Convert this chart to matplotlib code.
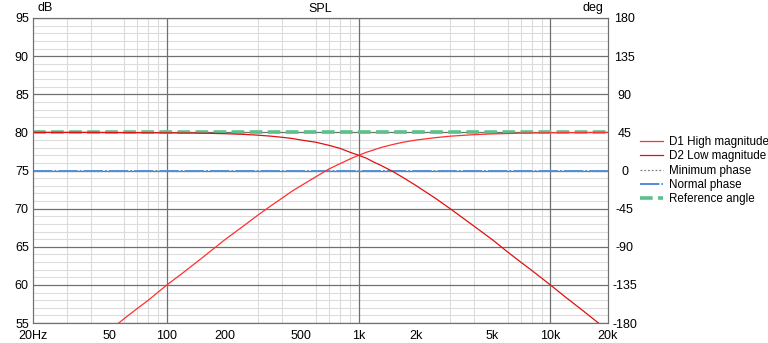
import numpy as np
import matplotlib.pyplot as plt
from matplotlib.ticker import FixedLocator, NullFormatter

# frequency points (Hz) and magnitudes (dB)
freq = [20, 25, 30, 40, 50, 60, 70, 80, 100, 120, 150, 200, 250, 300, 350, 400,
        450, 500, 600, 700, 800, 900, 1000, 1100, 1200, 1300, 1500, 1700, 2000,
        2500, 3000, 4000, 5000, 6000, 7000, 8000, 10000, 12000, 15000, 20000]
d1_high = [46.0, 47.9, 49.5, 52.0, 54.0, 55.6, 56.9, 58.0, 60.0, 61.5, 63.4, 65.9,
           67.7, 69.2, 70.4, 71.4, 72.3, 73.0, 74.2, 75.2, 75.9, 76.5, 77.0, 77.4,
           77.7, 78.0, 78.4, 78.7, 79.0, 79.3, 79.5, 79.7, 79.8, 79.85, 79.9, 79.92,
           79.95, 79.97, 79.98, 80.0]
d2_low = [80.0, 80.0, 80.0, 80.0, 79.98, 79.97, 79.96, 79.95, 79.94, 79.92, 79.9, 79.83,
          79.74, 79.63, 79.5, 79.35, 79.2, 79.0, 78.7, 78.3, 77.9, 77.4, 77.0, 76.6,
          76.1, 75.7, 74.9, 74.1, 73.0, 71.4, 70.0, 67.7, 65.9, 64.3, 63.0, 61.9,
          60.0, 58.4, 56.5, 54.0]
min_phase = [0, 0]        # deg
normal_phase = [0, 0]     # deg
reference_angle = [45, 45]  # deg
phase_freq = [20, 20000]

x_ticks = [20, 50, 100, 200, 500, 1000, 2000, 5000, 10000, 20000]
x_labels = ['20Hz', '50', '100', '200', '500', '1k', '2k', '5k', '10k', '20k']
db_ticks = [55, 60, 65, 70, 75, 80, 85, 90, 95]
deg_ticks = [-180, -135, -90, -45, 0, 45, 90, 135, 180]

plt.rcParams['font.family'] = ['Liberation Sans', 'DejaVu Sans']
plt.rcParams['font.size'] = 9
plt.rcParams['axes.unicode_minus'] = False

fig = plt.figure(figsize=(7.68, 3.43), dpi=100)
ax = fig.add_axes([33/768, 20/343, 575/768, 305/343])
ax2 = ax.twinx()

ax.set_xscale('log')
ax.set_xlim(20, 20000)
ax.set_ylim(55, 95)
ax2.set_ylim(-180, 180)

# grid
minor_x = [m * d for d in (10, 100, 1000, 10000) for m in range(2, 10) if 20 < m * d < 20000]
ax.xaxis.set_minor_locator(FixedLocator(minor_x))
ax.xaxis.set_minor_formatter(NullFormatter())
ax.yaxis.set_minor_locator(FixedLocator(list(range(55, 96))))
ax.grid(which='minor', color='#dcdcdc', lw=0.8, zorder=1)
for v in (100, 1000, 10000):
    ax.axvline(v, color='#707070', lw=0.9, zorder=2)
for v in db_ticks:
    ax.axhline(v, color='#707070', lw=0.9, zorder=2)

ax.set_xticks(x_ticks)
ax.set_xticklabels(x_labels)
ax.set_yticks(db_ticks)
ax2.set_yticks(deg_ticks)
ax.tick_params(which='both', length=0)
ax.tick_params(axis='x', pad=5)
ax.tick_params(axis='y', pad=3)
ax2.tick_params(length=0, pad=12)
for t in ax2.get_yticklabels():
    t.set_horizontalalignment('center')
for a in (ax, ax2):
    for s in a.spines.values():
        s.set_color('#707070')

# phase lines use the right (deg) axis scale but are drawn in the main axes so magnitudes sit on top
l3, = ax.plot(phase_freq, min_phase, color='#808080', lw=0.9, ls=(0, (1.5, 1.5)),
              transform=ax2.transData, zorder=3, label='Minimum phase')
l4, = ax.plot(phase_freq, normal_phase, color='#4f8fdb', lw=1.4, ls=(0, (10, 1, 1, 1)),
              transform=ax2.transData, zorder=3, label='Normal phase')
l5, = ax.plot(phase_freq, reference_angle, color='#5cc08a', lw=2.6, ls=(0, (3.5, 1.5)),
              transform=ax2.transData, zorder=3, label='Reference angle')
l1, = ax.plot(freq, d1_high, color='#ff3030', lw=0.9, zorder=4, label='D1 High magnitude')
l2, = ax.plot(freq, d2_low, color='#e01010', lw=0.9, zorder=4, label='D2 Low magnitude')

fig.legend(handles=[l1, l2, l3, l4, l5], loc='upper left', bbox_to_anchor=(640/768, 1 - 136/343),
           frameon=False, handlelength=2.0, handletextpad=0.5, labelspacing=0.2, fontsize=8.4,
           borderaxespad=0, borderpad=0)

fig.text(0.5 * (33 + 608) / 768, 1 - 9/343, 'SPL', ha='center', va='center', fontsize=9)
fig.text(38/768, 1 - 8/343, 'dB', ha='left', va='center', fontsize=9)
fig.text(603/768, 1 - 8/343, 'deg', ha='right', va='center', fontsize=9)

fig.savefig('out.png', dpi=100)
